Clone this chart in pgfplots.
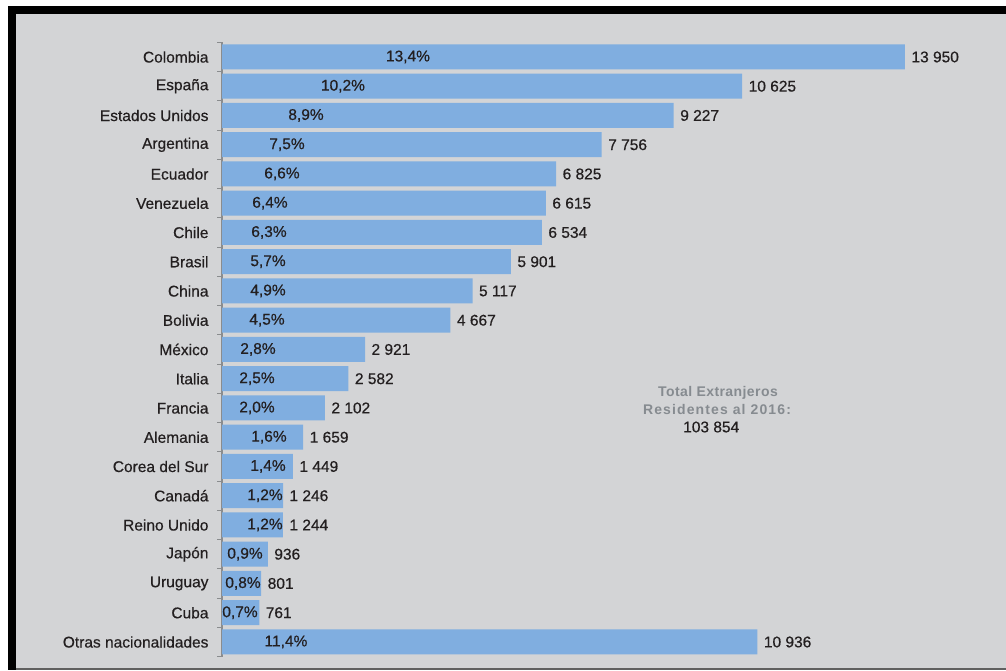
\documentclass[border=0pt]{standalone}
\usepackage{pgfplots}
\pgfplotsset{compat=1.18}
\usepackage{fontspec}
\setmainfont{Liberation Sans}
\definecolor{bg}{HTML}{D3D4D6}
\definecolor{barblue}{HTML}{80AEE0}
\definecolor{ink}{HTML}{231F20}
\definecolor{axgray}{HTML}{8A8C8E}
\definecolor{notegray}{HTML}{868B90}
\newcommand{\lblfont}{\fontsize{15.5}{18}\selectfont\addfontfeature{FakeBold=0.5}}
\begin{document}
\begin{tikzpicture}[x=1pt,y=1pt]
\useasboundingbox (0,0) rectangle (1006,670);
% frame of the scanned page
\fill[white] (0,0) rectangle (1006,670);
\fill[black] (8,0) rectangle (1006,664);
\fill[bg] (16,0) rectangle (1006,656);
\fill[gray!75!black] (16,0) rectangle (1006,2.5);
\begin{axis}[
    at={(222pt,13.4pt)}, anchor=south west,
    scale only axis,
    width=685.4pt, height=614.25pt,
    xmin=0, xmax=14000,
    ymin=-0.5, ymax=20.5,
    y dir=reverse,
    axis x line=none,
    axis y line*=left,
    axis line style={axgray, line width=1.3pt},
    ytick={0,...,20},
    yticklabels={Colombia, España, Estados Unidos, Argentina, Ecuador, Venezuela, Chile, Brasil, China, Bolivia, México, Italia, Francia, Alemania, Corea del Sur, Canadá, Reino Unido, Japón, Uruguay, Cuba, Otras nacionalidades},
    major tick length=0pt,
    minor ytick={-0.5,0.5,...,20.5},
    minor tick length=5pt,
    tick align=outside,
    minor tick style={axgray, line width=1pt},
    yticklabel style={font=\lblfont, text=ink, xshift=-10pt},
    clip=false,
]
% bars with the counts
\addplot[xbar, bar width=25pt, fill=barblue, draw=none,
    nodes near coords, point meta=explicit symbolic,
    nodes near coords style={anchor=west, font=\lblfont, text=ink, xshift=3pt}]
coordinates {
    (13950,0) [13~950]
    (10625,1) [10~625]
    (9227,2) [9~227]
    (7756,3) [7~756]
    (6825,4) [6~825]
    (6615,5) [6~615]
    (6534,6) [6~534]
    (5901,7) [5~901]
    (5117,8) [5~117]
    (4667,9) [4~667]
    (2921,10) [2~921]
    (2582,11) [2~582]
    (2102,12) [2~102]
    (1659,13) [1~659]
    (1449,14) [1~449]
    (1246,15) [1~246]
    (1244,16) [1~244]
    (936,17) [936]
    (801,18) [801]
    (761,19) [761]
    (10936,20) [10~936]
};
% shares written inside the bars
\addplot[draw=none, mark=none,
    nodes near coords, point meta=explicit symbolic,
    nodes near coords style={anchor=center, font=\lblfont, text=ink}]
coordinates {
    (3799,0) [{13,4\%}]
    (2471,1) [{10,2\%}]
    (1716,2) [{8,9\%}]
    (1328,3) [{7,5\%}]
    (1225,4) [{6,6\%}]
    (980,5) [{6,4\%}]
    (960,6) [{6,3\%}]
    (940,7) [{5,7\%}]
    (940,8) [{4,9\%}]
    (919,9) [{4,5\%}]
    (735,10) [{2,8\%}]
    (715,11) [{2,5\%}]
    (715,12) [{2,0\%}]
    (960,13) [{1,6\%}]
    (940,14) [{1,4\%}]
    (878,15) [{1,2\%}]
    (878,16) [{1,2\%}]
    (470,17) [{0,9\%}]
    (429,18) [{0,8\%}]
    (368,19) [{0,7\%}]
    (1307,20) [{11,4\%}]
};
\end{axis}
\node[text=notegray, font=\fontsize{14}{16}\selectfont\bfseries\addfontfeature{LetterSpace=3}, inner sep=0pt]
    at (718,277) {Total Extranjeros};
\node[text=notegray, font=\fontsize{14}{16}\selectfont\bfseries\addfontfeature{LetterSpace=8}, inner sep=0pt]
    at (717,261) {Residentes al 2016:};
\node[text=ink, font=\lblfont, anchor=west, inner sep=0pt] at (683,243) {103~854};
\end{tikzpicture}
\end{document}
